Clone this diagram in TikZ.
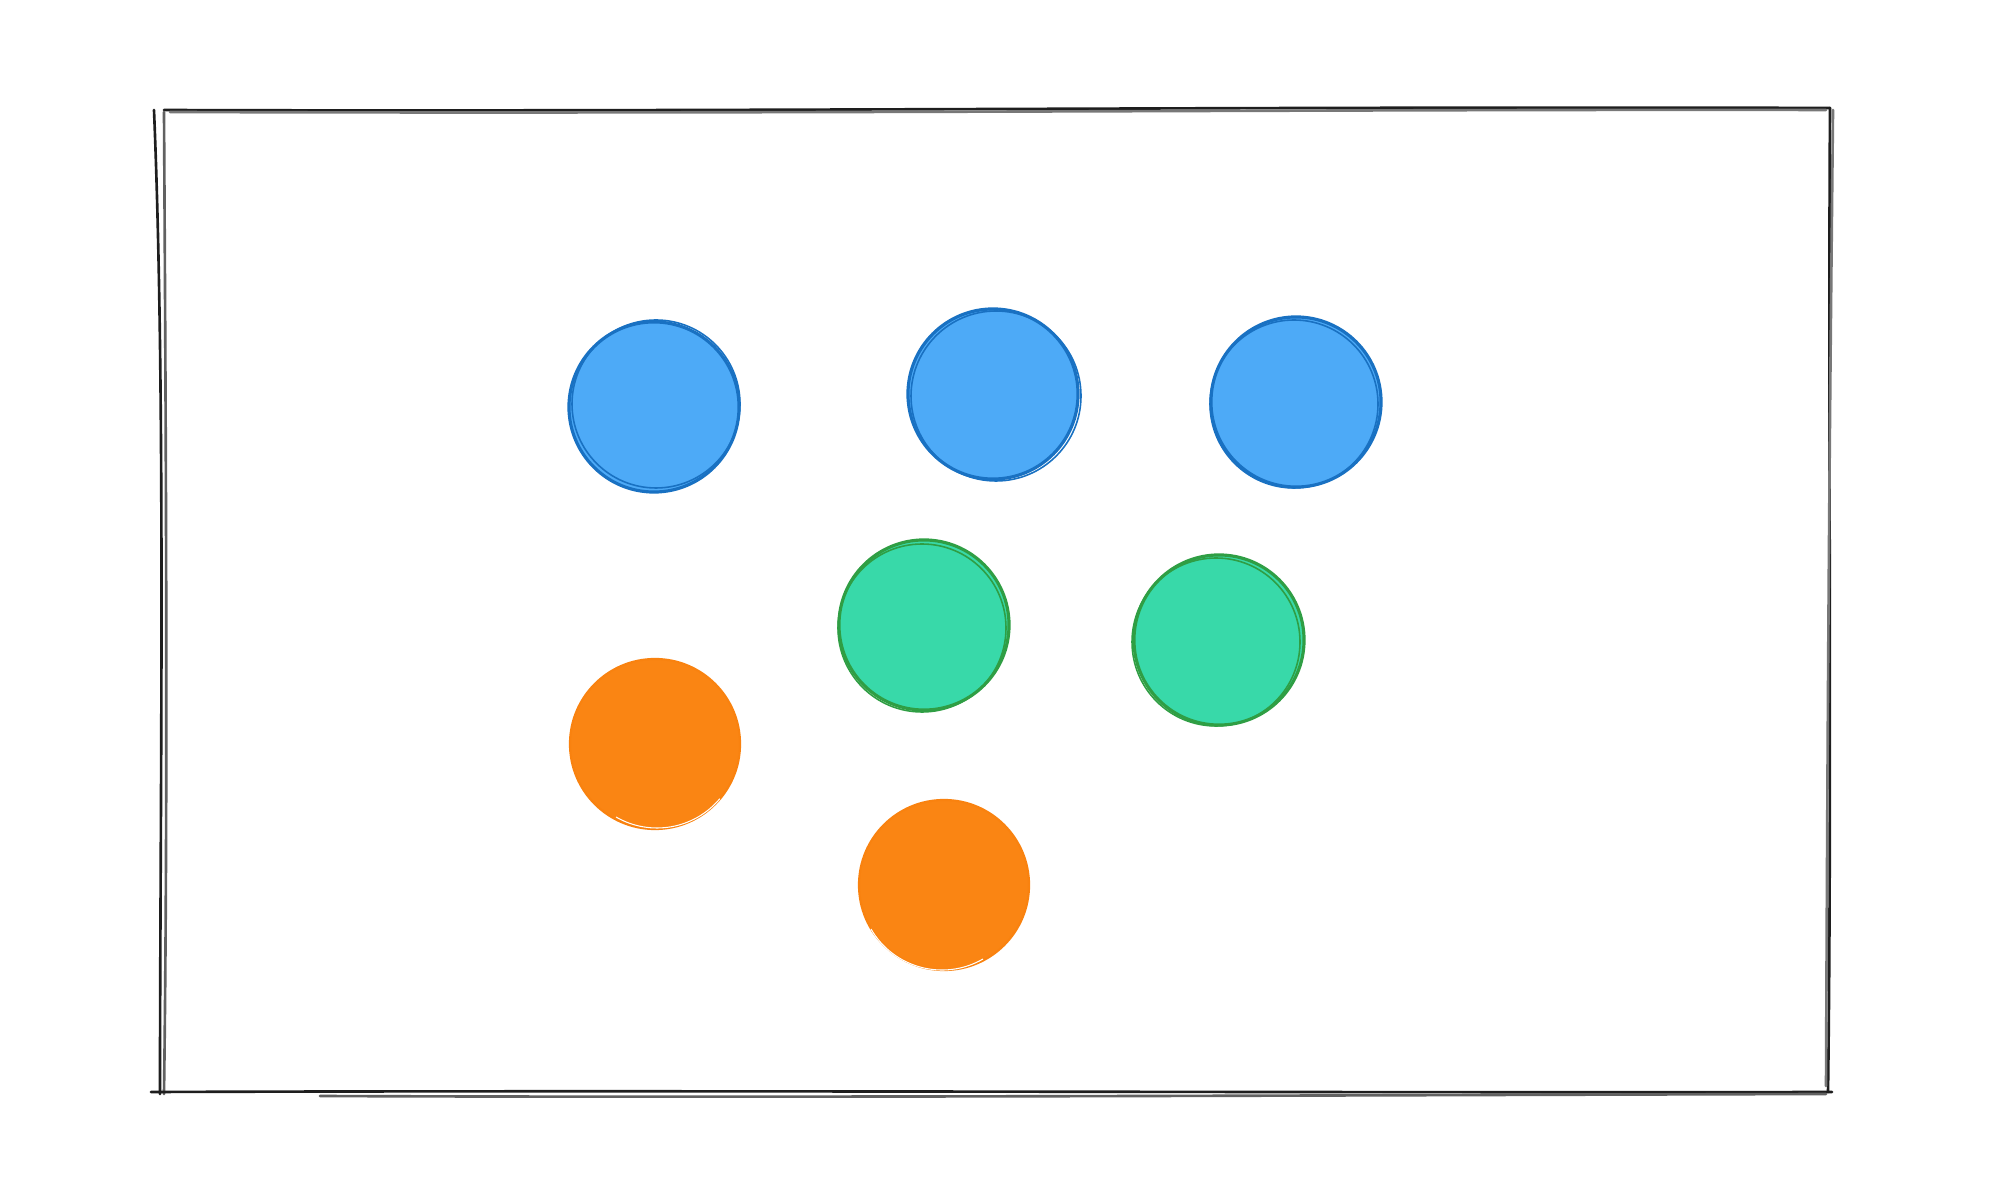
\documentclass[tikz,border=0pt]{standalone}
\definecolor{bluefill}{HTML}{4DAAF7}
\definecolor{bluestroke}{HTML}{1971C2}
\definecolor{greenfill}{HTML}{38D9A9}
\definecolor{greenstroke}{HTML}{2F9E44}
\definecolor{orangefill}{HTML}{FA8513}
\definecolor{orangestroke}{HTML}{F9820F}
\definecolor{ink}{HTML}{1E1E1E}
\tikzset{
  dot/.style={circle, inner sep=0pt, minimum size=1.7cm},
  bluedot/.style={dot, fill=bluefill, draw=bluestroke, line width=0.9pt},
  greendot/.style={dot, fill=greenfill, draw=greenstroke, line width=0.9pt},
  orangedot/.style={dot, fill=orangefill, draw=orangestroke, line width=0.6pt},
  sketch/.style={line width=0.45pt},
  frame/.style={draw=ink, line width=0.75pt, line cap=round}
}
\begin{document}
\begin{tikzpicture}[x=0.01cm,y=-0.01cm]
\useasboundingbox (0,0) rectangle (2000,1204);
% frame (hand-drawn, double strokes)
\draw[frame] (164,110) .. controls (700,112) and (1300,106) .. (1830,108);
\draw[frame, ink!60] (170,112) .. controls (800,114) and (1400,109) .. (1826,110);
\draw[frame] (154,110) .. controls (166,400) and (160,800) .. (160,1094);
\draw[frame, ink!70] (164,112) .. controls (166,450) and (168,800) .. (164,1094);
\draw[frame] (1830,108) .. controls (1828,400) and (1832,800) .. (1828,1092);
\draw[frame, ink!60] (1833,110) .. controls (1830,400) and (1828,600) .. (1826,1086);
\draw[frame] (151,1092) .. controls (700,1090) and (1300,1093) .. (1832,1092);
\draw[frame, ink!70] (320,1096) .. controls (800,1098) and (1400,1095) .. (1826,1094);
% circles
\node[bluedot] (b1) at (654,407) {};
\node[bluedot] (b2) at (993,394) {};
\node[bluedot] (b3) at (1296,402) {};
\node[greendot] (g1) at (924,625) {};
\node[greendot] (g2) at (1219,640) {};
\node[orangedot] (o1) at (655,744) {};
\node[orangedot] (o2) at (944,885) {};
% sketchy second strokes
\draw[sketch, bluestroke] ([shift={(2,-3)}]b1.center) circle (84);
\draw[sketch, bluestroke] ([shift={(3,2)}]b2.center) circle (85);
\draw[sketch, bluestroke] ([shift={(-2,2)}]b3.center) circle (84);
\draw[sketch, greenstroke] ([shift={(-2,3)}]g1.center) circle (84);
\draw[sketch, greenstroke] ([shift={(-3,2)}]g2.center) circle (84);
\draw[line width=0.3pt, white] ([shift={(2,2)}]o1.center) ++(40:82) arc (40:120:82);
\draw[line width=0.3pt, white] ([shift={(-2,3)}]o2.center) ++(60:82) arc (60:150:82);
\end{tikzpicture}
\end{document}
